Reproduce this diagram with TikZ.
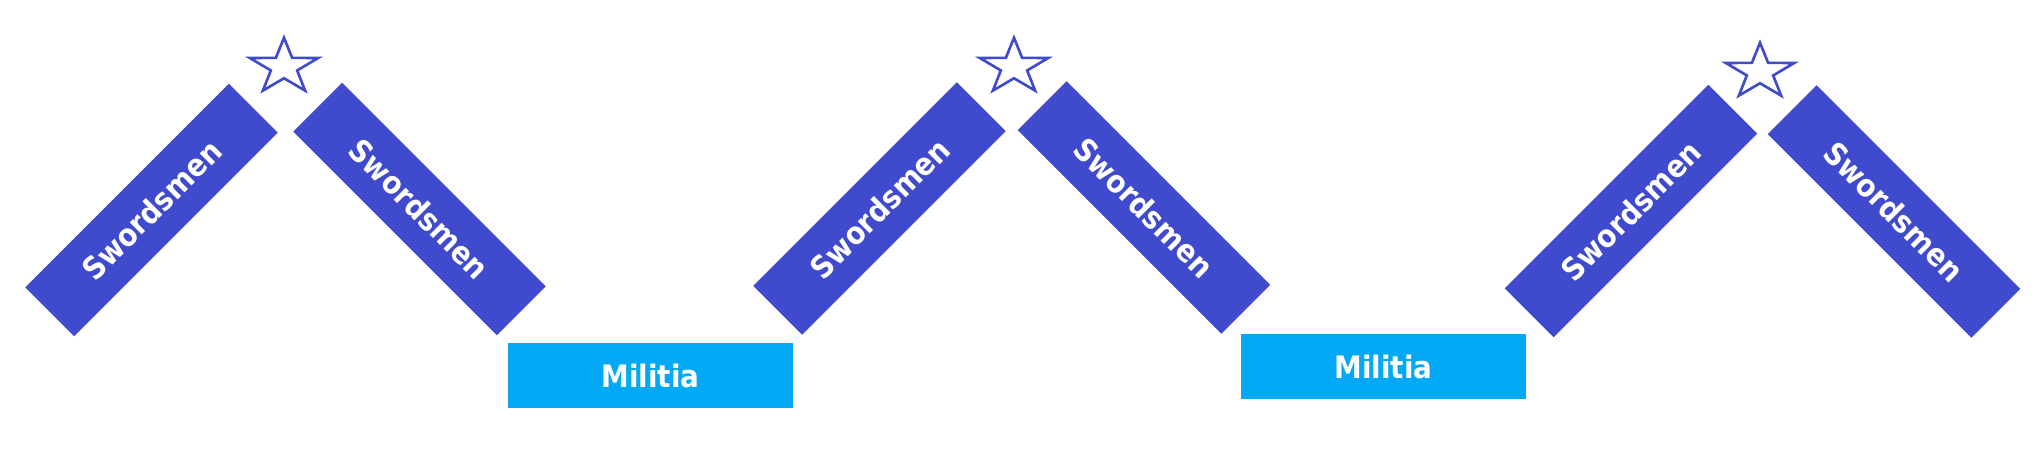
\documentclass[tikz,border=0pt]{standalone}
\usepackage{fontspec}
\setmainfont{DejaVu Sans}[FakeStretch=0.9]
\usetikzlibrary{shapes.geometric}
\definecolor{swordblue}{RGB}{64,74,204}
\definecolor{militiablue}{RGB}{3,169,244}

\begin{document}
\begin{tikzpicture}[x=0.02cm, y=-0.02cm,
		sword/.style={fill=swordblue, text=white, font=\fontsize{17.6}{20}\selectfont\bfseries,
			minimum width=5.76cm, minimum height=1.38cm, inner sep=0pt},
		militia/.style={fill=militiablue, text=white, font=\fontsize{17.6}{20}\selectfont\bfseries,
			minimum width=5.7cm, minimum height=1.3cm, inner sep=0pt},
		leadstar/.style={star, star points=5, star point ratio=2.6, draw=swordblue, fill=white,
			line width=1.5pt, minimum size=1.17cm, inner sep=0pt, xscale=1.23}]
		\useasboundingbox (0,0) rectangle (2043,449);
		\node[sword, rotate=45] (S1L) at (151.5,210) {Swordsmen};
		\node[sword, rotate=-45] (S1R) at (419.5,209) {Swordsmen};
		\node[leadstar] (St1) at (284,67) {};
		\node[militia] (M1) at (650.5,375.5) {Militia};
		\node[sword, rotate=45] (S2L) at (879.5,208.5) {Swordsmen};
		\node[sword, rotate=-45] (S2R) at (1144,207.5) {Swordsmen};
		\node[leadstar] (St2) at (1014,67) {};
		\node[militia] (M2) at (1383.5,366.5) {Militia};
		\node[sword, rotate=45] (S3L) at (1631,211) {Swordsmen};
		\node[sword, rotate=-45] (S3R) at (1894,211.5) {Swordsmen};
		\node[leadstar] (St3) at (1760,72) {};
	\end{tikzpicture}
\end{document}
